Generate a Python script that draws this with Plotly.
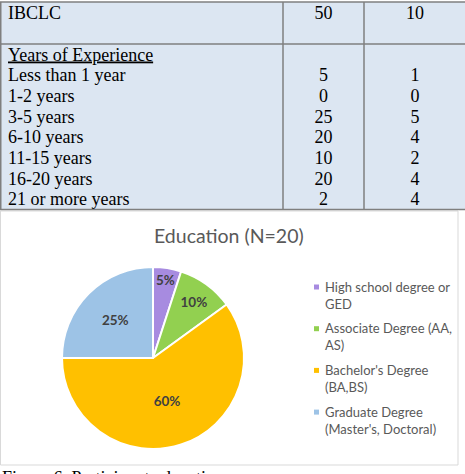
import plotly.graph_objects as go

W, H = 465, 474

# ---------------- data ----------------
table_header_label = "IBCLC"
table_header_n = 50
table_header_pct = 10
exp_title = "Years of Experience"
exp_categories = ["Less than 1 year", "1-2 years", "3-5 years", "6-10 years",
                  "11-15 years", "16-20 years", "21 or more years"]
exp_n = [5, 0, 25, 20, 10, 20, 2]
exp_pct = [1, 0, 5, 4, 2, 4, 4]

edu_title = "Education (N=20)"
edu_labels = ["High school degree or<br>GED", "Associate Degree (AA,<br>AS)",
              "Bachelor's Degree<br>(BA,BS)", "Graduate Degree<br>(Master's, Doctoral)"]
edu_values = [5, 10, 60, 25]
edu_colors = ["#A78BE0", "#92D050", "#FFC000", "#9DC3E6"]

caption = "Figure 6. Participant education"

# ---------------- helpers ----------------
def py(px):  # pixel y -> paper y
    return 1 - px / H

def pxx(px):
    return px / W

# table axis: y in "line" units, line j center at 56 + 20.7*j px
T0, TS = 56.0, 20.7
t_range = [(H - T0) / TS, -T0 / TS]
# legend axis: item i first-line center at 287 + 41.7*i px
L0, LS = 287.0, 41.7
l_range = [(H - L0) / LS, -L0 / LS]

serif = "Liberation Serif"
sans = "Lato"

fig = go.Figure()

rows_y = list(range(1, len(exp_categories) + 1))

fig.add_trace(go.Scatter(
    x=[8] * (2 + len(exp_categories)),
    y=[-2, 0] + rows_y,
    text=[table_header_label, "<u>" + exp_title + "</u>"] + exp_categories,
    mode="text", textposition="middle right",
    textfont=dict(family=serif, size=18, color="#000000"),
    xaxis="x", yaxis="y", showlegend=False, hoverinfo="skip"))
fig.add_trace(go.Scatter(
    x=[323.5] * (1 + len(exp_n)),
    y=[-2] + rows_y,
    text=[str(table_header_n)] + [str(v) for v in exp_n],
    mode="text", textposition="middle center",
    textfont=dict(family=serif, size=18, color="#000000"),
    xaxis="x", yaxis="y", showlegend=False, hoverinfo="skip"))
fig.add_trace(go.Scatter(
    x=[415] * (1 + len(exp_pct)),
    y=[-2] + rows_y,
    text=[str(table_header_pct)] + [str(v) for v in exp_pct],
    mode="text", textposition="middle center",
    textfont=dict(family=serif, size=18, color="#000000"),
    xaxis="x", yaxis="y", showlegend=False, hoverinfo="skip"))

# pie
cx, cy, r = 153, 358, 91
fig.add_trace(go.Pie(
    values=edu_values, labels=edu_labels, sort=False, direction="clockwise",
    rotation=0, marker=dict(colors=edu_colors, line=dict(color="#FFFFFF", width=2)),
    textinfo="percent", textposition="inside", insidetextorientation="horizontal",
    texttemplate="%{percent:.0%}",
    textfont=dict(family=sans, size=13.5, color="#404040", weight="bold"),
    domain=dict(x=[pxx(cx - r), pxx(cx + r)], y=[py(cy + r), py(cy - r)]),
    showlegend=False, hoverinfo="skip"))

# legend markers
fig.add_trace(go.Scatter(
    x=[316.5] * len(edu_labels), y=list(range(len(edu_labels))),
    mode="markers", marker=dict(symbol="square", size=5, color=edu_colors),
    xaxis="x2", yaxis="y2", showlegend=False, hoverinfo="skip"))

annotations = []
for i, lab in enumerate(edu_labels):
    annotations.append(dict(
        x=323, y=i, xref="x2", yref="y2", text=lab, showarrow=False,
        xanchor="left", yanchor="middle", align="left", yshift=-8,
        font=dict(family=sans, size=13, color="#595959")))
annotations.append(dict(
    x=pxx(229), y=py(235), xref="paper", yref="paper", text=edu_title,
    showarrow=False, xanchor="center", yanchor="middle",
    font=dict(family=sans, size=19.5, color="#595959")))
annotations.append(dict(
    x=0, y=py(478), xref="paper", yref="paper", text=caption,
    showarrow=False, xanchor="left", yanchor="middle",
    font=dict(family=serif, size=18, color="#000000")))

line_c = "#7F7F7F"
shapes = [
    dict(type="rect", xref="paper", yref="paper", x0=pxx(0), x1=pxx(470),
         y0=py(209.5), y1=py(2), fillcolor="#DCE6F2", line=dict(width=0), layer="below"),
    dict(type="rect", xref="paper", yref="paper", x0=pxx(0.5), x1=pxx(458),
         y0=py(465), y1=py(211), fillcolor="#FFFFFF",
         line=dict(color="#D9D9D9", width=1), layer="below"),
]
for yy in [2, 44, 209.5]:
    shapes.append(dict(type="line", xref="paper", yref="paper", x0=0, x1=1,
                       y0=py(yy), y1=py(yy), line=dict(color=line_c, width=1.5)))
for xx in [0.75, 283, 364]:
    shapes.append(dict(type="line", xref="paper", yref="paper", x0=pxx(xx), x1=pxx(xx),
                       y0=py(209.5), y1=py(2), line=dict(color=line_c, width=1.5)))

axis_off = dict(visible=False, showgrid=False, zeroline=False, fixedrange=True)
fig.update_layout(
    width=W, height=H, margin=dict(l=0, r=0, t=0, b=0),
    paper_bgcolor="#FFFFFF", plot_bgcolor="rgba(0,0,0,0)",
    xaxis=dict(range=[0, W], domain=[0, 1], **axis_off),
    yaxis=dict(range=t_range, domain=[0, 1], **axis_off),
    xaxis2=dict(range=[0, W], domain=[0, 1], overlaying="x", anchor="y2", **axis_off),
    yaxis2=dict(range=l_range, domain=[0, 1], overlaying="y", anchor="x2", **axis_off),
    shapes=shapes, annotations=annotations, showlegend=False,
)

fig.write_html("out.html")
